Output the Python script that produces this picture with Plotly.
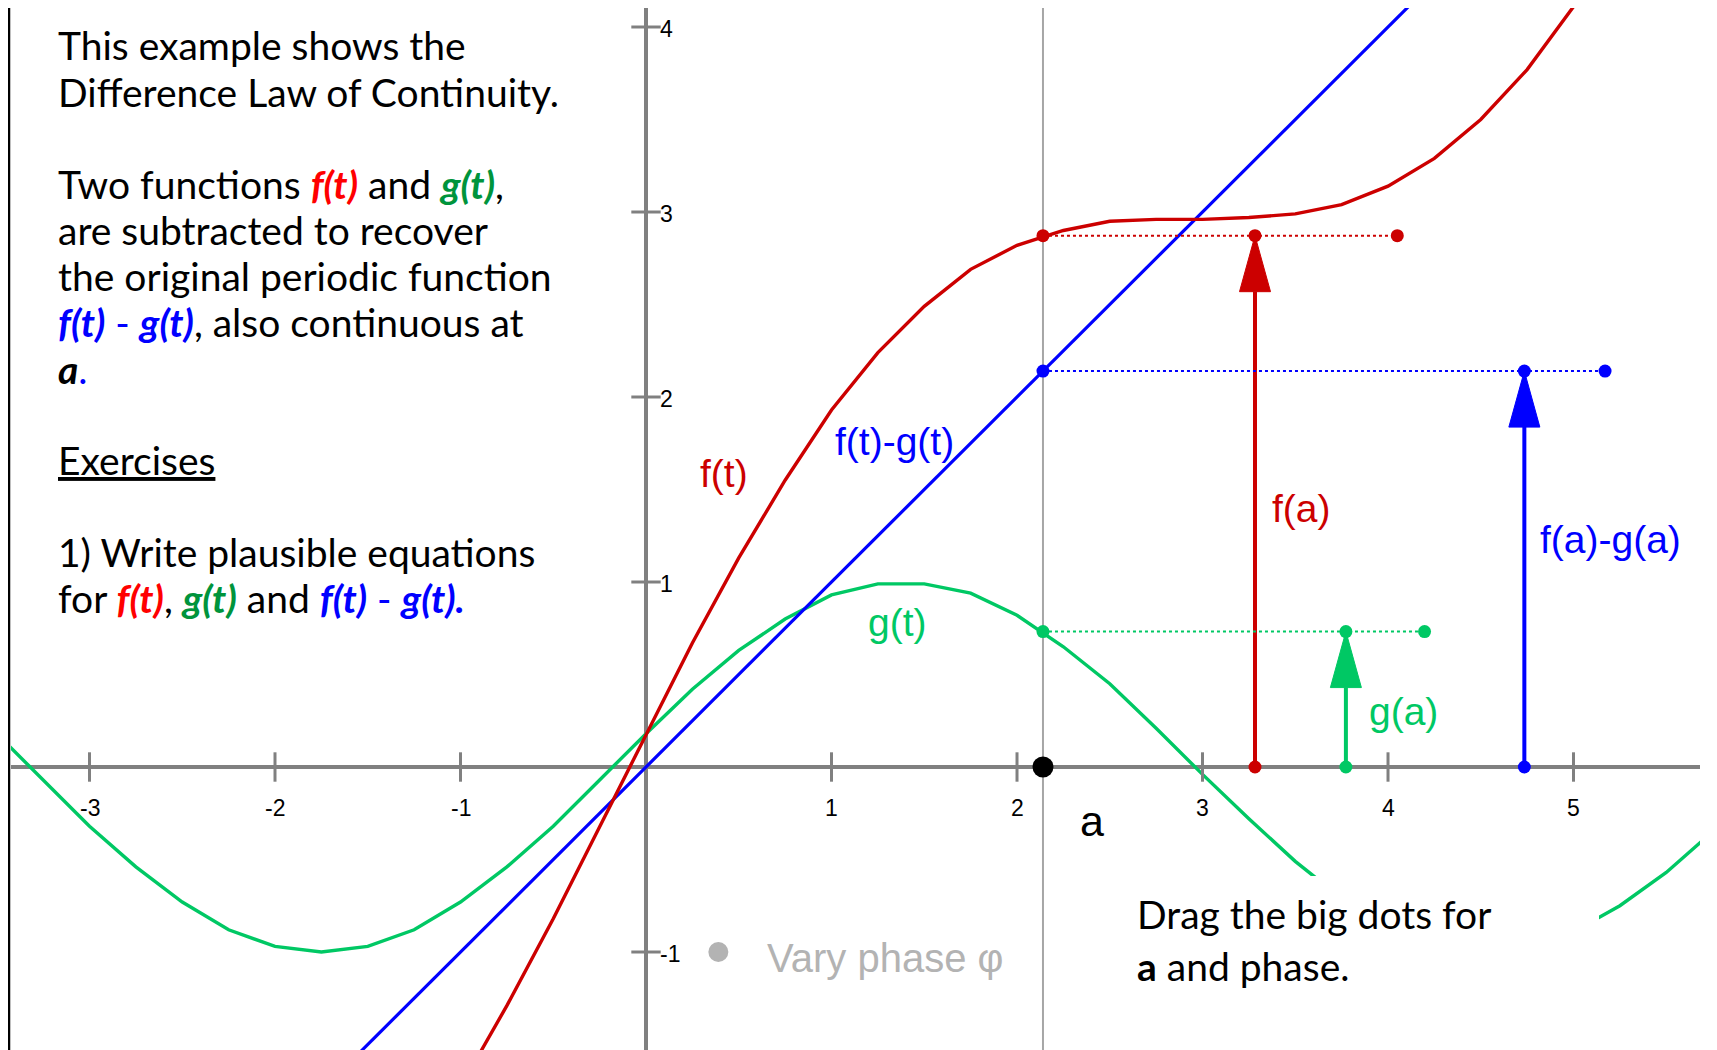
import plotly.graph_objects as go

# ---------------- figure geometry ----------------
OFF = 8                      # page body margin of the html page
W, H = 1717 - OFF, 1050 - OFF
ML, MR, MT, MB = 11 - OFF, 17, 0, 0
X_RANGE = [-3.4232, 5.6819]
Y_RANGE = [-1.5297, 4.1027]
PX_X = (W - ML - MR) / (X_RANGE[1] - X_RANGE[0])   # pixels per unit
PX_Y = (H - MT - MB) / (Y_RANGE[1] - Y_RANGE[0])

# ---------------- data ----------------
t_g = [-3.50, -3.25, -3.00, -2.75, -2.50, -2.25, -2.00, -1.75, -1.50, -1.25,
       -1.00, -0.75, -0.50, -0.25, 0.00, 0.25, 0.50, 0.75, 1.00, 1.25,
       1.50, 1.75, 2.00, 2.25, 2.50, 2.75, 3.00, 3.25, 3.50, 3.75,
       4.00, 4.25, 4.50, 4.75, 5.00, 5.25, 5.50, 5.75]
g_vals = [0.18, -0.07, -0.32, -0.54, -0.73, -0.88, -0.97, -1.00, -0.97, -0.88,
          -0.73, -0.54, -0.32, -0.07, 0.18, 0.42, 0.63, 0.80, 0.93, 0.99,
          0.99, 0.94, 0.82, 0.65, 0.45, 0.21, -0.04, -0.28, -0.51, -0.71,
          -0.86, -0.96, -1.00, -0.98, -0.89, -0.75, -0.57, -0.35]

t_f = [-1.00, -0.75, -0.50, -0.25, 0.00, 0.25, 0.50, 0.75, 1.00, 1.25,
       1.50, 1.75, 2.00, 2.25, 2.50, 2.75, 3.00, 3.25, 3.50, 3.75,
       4.00, 4.25, 4.50, 4.75, 5.00, 5.25]
f_vals = [-1.73, -1.29, -0.82, -0.32, 0.18, 0.67, 1.13, 1.55, 1.93, 2.24,
          2.49, 2.69, 2.82, 2.90, 2.95, 2.96, 2.96, 2.97, 2.99, 3.04,
          3.14, 3.29, 3.50, 3.77, 4.11, 4.50]

t_d = [-1.60, 0.00, 2.14, 4.20]
d_vals = [-1.60, 0.00, 2.14, 4.20]

a_val = 2.14
names = ["f", "g", "d"]
at_a = {"f": 2.872, "g": 0.732, "d": 2.14}
arrow_x = {"f": 3.283, "g": 3.773, "d": 4.735}
end_x = {"f": 4.05, "g": 4.197, "d": 5.17}
phase_dot = [0.39, -1.0]

x_ticks = [-3, -2, -1, 1, 2, 3, 4, 5]
y_ticks = [-1, 1, 2, 3, 4]

RED, GREEN, BLUE = "#CC0000", "#00C864", "#0000FF"
col = {"f": RED, "g": GREEN, "d": BLUE}
AXIS = "#808080"
TXT_RED, TXT_GREEN, TXT_BLUE = "#FF0000", "#00943C", "#0000FF"

fig = go.Figure()

# curves
fig.add_trace(go.Scatter(x=t_g, y=g_vals, mode="lines", line=dict(color=GREEN, width=3.4)))
fig.add_trace(go.Scatter(x=t_d, y=d_vals, mode="lines", line=dict(color=BLUE, width=3.2)))
fig.add_trace(go.Scatter(x=t_f, y=f_vals, mode="lines", line=dict(color=RED, width=3.4)))

# axis ticks
fig.add_trace(go.Scatter(x=x_ticks, y=[0] * len(x_ticks), mode="markers",
                         marker=dict(symbol="line-ns", size=21, line=dict(color=AXIS, width=3))))
fig.add_trace(go.Scatter(x=[0] * len(y_ticks), y=y_ticks, mode="markers",
                         marker=dict(symbol="line-ew", size=21, line=dict(color=AXIS, width=3))))

head_len = 56 / PX_Y
head_hw = 15.5 / PX_X
for k in names:
    v = at_a[k]
    c = col[k]
    # dotted guide
    fig.add_trace(go.Scatter(x=[a_val, end_x[k]], y=[v, v], mode="lines",
                             line=dict(color=c, width=2, dash="dot")))
    # arrow shaft
    fig.add_trace(go.Scatter(x=[arrow_x[k], arrow_x[k]], y=[0, v - head_len], mode="lines",
                             line=dict(color=c, width=4)))
    # arrow head
    fig.add_trace(go.Scatter(x=[arrow_x[k] - head_hw, arrow_x[k] + head_hw, arrow_x[k], arrow_x[k] - head_hw],
                             y=[v - head_len, v - head_len, v, v - head_len],
                             mode="lines", fill="toself", fillcolor=c, line=dict(color=c, width=1)))
    # dots
    fig.add_trace(go.Scatter(x=[a_val, arrow_x[k], end_x[k], arrow_x[k]], y=[v, v, v, 0],
                             mode="markers", marker=dict(color=c, size=13)))

# big dots
fig.add_trace(go.Scatter(x=[a_val], y=[0], mode="markers", marker=dict(color="black", size=21)))
fig.add_trace(go.Scatter(x=[phase_dot[0]], y=[phase_dot[1]], mode="markers",
                         marker=dict(color="#B3B3B3", size=20)))


def px2paper(px, py):
    """screen pixel of the 1717x1050 window -> paper coordinates"""
    fx, fy = px - OFF, py - OFF
    return (fx - ML) / (W - ML - MR), 1 - (fy - MT) / (H - MT - MB)


shapes = []
# frame line at left
fx, _ = px2paper(9, 0)
shapes.append(dict(type="line", xref="paper", yref="paper", x0=fx, x1=fx, y0=0, y1=1.02,
                   line=dict(color="black", width=2.5)))
# vertical line at a
shapes.append(dict(type="line", xref="x", yref="paper", x0=a_val, x1=a_val, y0=0, y1=1,
                   line=dict(color="#A6A6A6", width=2), layer="below"))
# white text box bottom-right
bx0, by0 = px2paper(1120, 876)
bx1, by1 = px2paper(1599, 1050)
shapes.append(dict(type="rect", xref="paper", yref="paper", x0=bx0, x1=bx1, y0=by1, y1=by0,
                   fillcolor="white", line=dict(width=0), layer="above"))

ann = []
LBL = "Liberation Sans, Arial, sans-serif"
# tick labels
for k in x_ticks:
    ann.append(dict(x=k, y=0, xref="x", yref="y", text=str(k), showarrow=False,
                    yshift=-41, font=dict(family=LBL, size=23, color="black")))
for k in y_ticks:
    ann.append(dict(x=0, y=k, xref="x", yref="y", text=str(k), showarrow=False,
                    xanchor="left", xshift=12, yshift=-2, font=dict(family=LBL, size=23, color="black")))

# curve labels
labels = [("f(t)", 0.423, 1.585, RED), ("f(t)-g(t)", 1.340, 1.76, BLUE), ("g(t)", 1.358, 0.78, GREEN),
          ("f(a)", 3.536, 1.395, RED), ("g(a)", 4.086, 0.30, GREEN), ("f(a)-g(a)", 5.197, 1.23, BLUE)]
for txt, x, y, c in labels:
    ann.append(dict(x=x, y=y, xref="x", yref="y", text=txt, showarrow=False,
                    font=dict(family=LBL, size=39, color=c)))
ann.append(dict(x=2.402, y=-0.29, xref="x", yref="y", text="a", showarrow=False,
                font=dict(family=LBL, size=43, color="black")))
ann.append(dict(x=0.64, y=-1.03, xref="x", yref="y", text="Vary phase φ", showarrow=False,
                xanchor="left", font=dict(family=LBL, size=40, color="#B3B3B3")))


def bi(s, c):
    return f'<b><i><span style="color:{c}">{s}</span></i></b>'


para = [
    (45, "This example shows the"),
    (92, "Difference Law of Continuity."),
    (184, "Two functions " + bi("f(t)", TXT_RED) + " and " + bi("g(t)", TXT_GREEN) + ","),
    (230, "are subtracted to recover"),
    (276, "the original periodic function"),
    (322, bi("f(t)", TXT_BLUE) + f'<span style="color:{TXT_BLUE}"> - </span>' + bi("g(t)", TXT_BLUE)
     + ", also continuous at"),
    (369, "<b><i>a</i></b>" + f'<span style="color:{TXT_BLUE}">.</span>'),
    (460, "<u>Exercises</u>"),
    (552, "1) Write plausible equations"),
    (598, "for " + bi("f(t)", TXT_RED) + ", " + bi("g(t)", TXT_GREEN) + " and " + bi("f(t)", TXT_BLUE)
     + f'<span style="color:{TXT_BLUE}"> - </span>' + bi("g(t).", TXT_BLUE)),
]
PF = "Lato, Calibri, sans-serif"
for py, txt in para:
    x, y = px2paper(56, py)
    ann.append(dict(x=x, y=y, xref="paper", yref="paper", text=txt, showarrow=False,
                    xanchor="left", yanchor="middle", font=dict(family=PF, size=39, color="black")))
for py, txt in [(914, "Drag the big dots for"), (966, "<b>a</b> and phase.")]:
    x, y = px2paper(1135, py)
    ann.append(dict(x=x, y=y, xref="paper", yref="paper", text=txt, showarrow=False,
                    xanchor="left", yanchor="middle", font=dict(family=PF, size=39, color="black")))

fig.update_layout(
    width=W, height=H, margin=dict(l=ML, r=MR, t=MT, b=MB),
    paper_bgcolor="white", plot_bgcolor="white", showlegend=False,
    xaxis=dict(range=X_RANGE, showgrid=False, showticklabels=False, ticks="",
               zeroline=True, zerolinecolor=AXIS, zerolinewidth=4, fixedrange=True),
    yaxis=dict(range=Y_RANGE, showgrid=False, showticklabels=False, ticks="",
               zeroline=True, zerolinecolor=AXIS, zerolinewidth=4, fixedrange=True),
    shapes=shapes, annotations=ann, hovermode=False,
)
fig.write_html("out.html", config={"displayModeBar": False})
